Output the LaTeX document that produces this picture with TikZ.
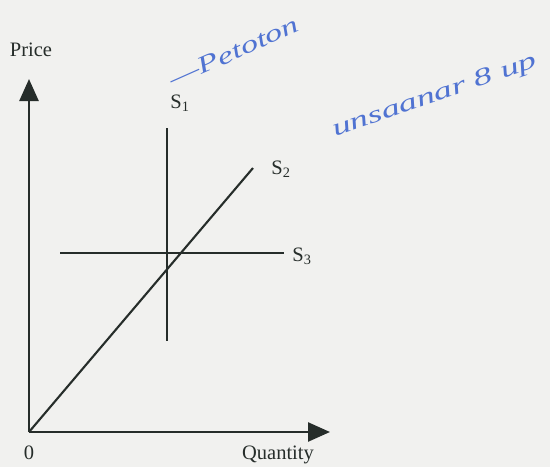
\documentclass[tikz,border=0pt]{standalone}
\usepackage{fontspec}
\setmainfont{Liberation Serif}
\usetikzlibrary{arrows.meta}
\definecolor{paper}{RGB}{241,241,239}
\definecolor{ink}{RGB}{38,45,42}
\definecolor{pen}{RGB}{80,115,210}
\tikzset{
  axis/.style={draw=ink, line width=2.5pt, -{Triangle[length=22pt,width=19pt]}},
  curve/.style={draw=ink, line width=2.1pt},
  lbl/.style={text=ink, font=\fontsize{20.5}{22}\selectfont, inner sep=0pt},
  hand/.style={text=pen, font=\itshape\fontsize{24}{26}\selectfont, inner sep=0pt}
}
\begin{document}
\begin{tikzpicture}[x=1pt,y=-1pt]
\fill[paper] (0,0) rectangle (550,467);
\useasboundingbox (0,0) rectangle (550,467);
% axes
\coordinate (o) at (29,432);
\coordinate (ytip) at (29,79);
\coordinate (xtip) at (330,432);
\draw[axis] (o) -- (ytip);
\draw[axis] (o) -- (xtip);
\node[lbl] (price) at (31,50) {Price};
\node[lbl] (zero) at (29,453) {0};
\node[lbl] (qty) at (278,455) {Quantity};
% S1 vertical
\coordinate (s1a) at (167,128);
\coordinate (s1b) at (167,341);
\draw[curve] (s1a) -- (s1b);
\node[lbl] (s1) at (180,103) {S\textsubscript{1}};
% S2 diagonal
\coordinate (s2b) at (253,168);
\draw[curve] (o) -- (s2b);
\node[lbl] (s2) at (281,169) {S\textsubscript{2}};
% S3 horizontal
\coordinate (s3a) at (60,253);
\coordinate (s3b) at (284,253);
\draw[curve] (s3a) -- (s3b);
\node[lbl] (s3) at (302,256) {S\textsubscript{3}};
% handwriting
\node[hand, rotate=24, xscale=1.45] (h1) at (234,52) {\textemdash Petoton};
\node[hand, rotate=19, xscale=1.55] (h2) at (435,96) {unsaanar 8 up};
\end{tikzpicture}
\end{document}
